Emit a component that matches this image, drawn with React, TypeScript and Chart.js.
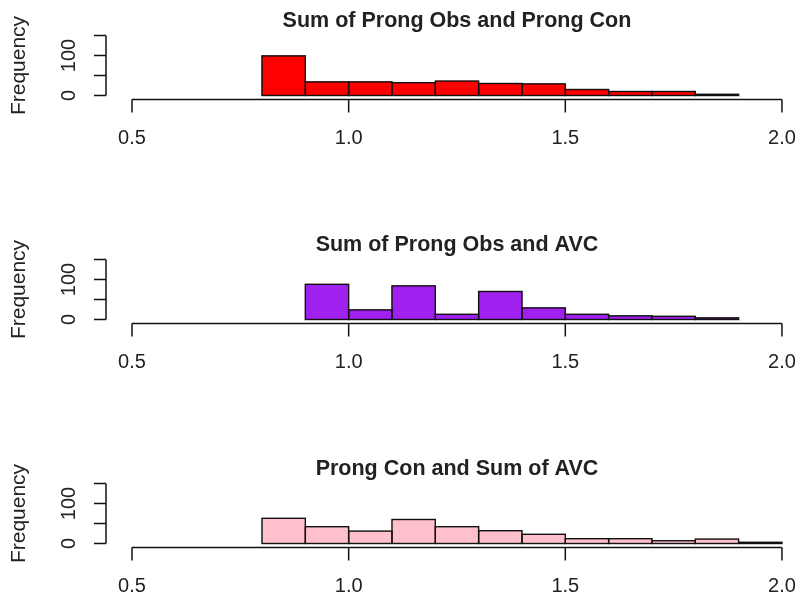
import React, { useEffect, useRef } from 'react';
import { Chart, registerables } from 'chart.js';

Chart.register(...registerables);

// Axis ticks
const xTicks = [0.5, 1.0, 1.5, 2.0];
const xTickLabels = ['0.5', '1.0', '1.5', '2.0'];
const yTicks = [0, 50, 100, 150];
const yTickLabels = ['0', '', '100', ''];
const yAxisTitle = 'Frequency';

// Panel titles
const titleObsCon = 'Sum of Prong Obs and Prong Con';
const titleObsAvc = 'Sum of Prong Obs and AVC';
const titleConAvc = 'Prong Con and Sum of AVC';

// Histogram bins (bin centres, width 0.1) and counts
const binsObsCon = [0.85, 0.95, 1.05, 1.15, 1.25, 1.35, 1.45, 1.55, 1.65, 1.75, 1.85];
const countsObsCon = [99, 34, 34, 32, 36, 30, 29, 15, 10, 10, 3];

const binsObsAvc = [0.95, 1.05, 1.15, 1.25, 1.35, 1.45, 1.55, 1.65, 1.75, 1.85];
const countsObsAvc = [88, 24, 84, 13, 70, 29, 13, 9, 8, 4];

const binsConAvc = [0.85, 0.95, 1.05, 1.15, 1.25, 1.35, 1.45, 1.55, 1.65, 1.75, 1.85, 1.95];
const countsConAvc = [63, 42, 31, 60, 42, 32, 23, 12, 12, 7, 11, 3];

const colorObsCon = '#FF0000';
const colorObsAvc = '#A020F0';
const colorConAvc = '#FFC0CB';

const FONT = '"Liberation Sans", Arial, sans-serif';
const TEXT = '#222222';

// R-style rectangle outlines (stroked centred on the bar edges, never clamped)
const barOutline = {
  id: 'barOutline',
  afterDatasetsDraw(chart: any) {
    const { ctx } = chart;
    ctx.save();
    ctx.strokeStyle = '#111';
    ctx.lineWidth = 1.4;
    chart.data.datasets.forEach((_: any, di: number) => {
      const meta = chart.getDatasetMeta(di);
      meta.data.forEach((el: any) => {
        const { x, y, base, width } = el.getProps(['x', 'y', 'base', 'width'], true);
        const left = x - width / 2;
        const top = Math.min(y, base);
        const h = Math.abs(base - y);
        ctx.strokeRect(left, top, width, h);
      });
    });
    ctx.restore();
  },
};

function makeAxesPlugin(title: string) {
  return {
    id: 'rAxes',
    afterDraw(chart: any) {
      const { ctx, chartArea } = chart;
      const xs = chart.scales.x;
      const ys = chart.scales.y;
      ctx.save();
      ctx.strokeStyle = '#111';
      ctx.lineWidth = 1.5;
      ctx.fillStyle = TEXT;

      // x axis
      const ay = chartArea.bottom;
      const xa = xs.getPixelForValue(xTicks[0]);
      const xb = xs.getPixelForValue(xTicks[xTicks.length - 1]);
      ctx.beginPath();
      ctx.moveTo(xa, ay);
      ctx.lineTo(xb, ay);
      xTicks.forEach((t) => {
        const px = xs.getPixelForValue(t);
        ctx.moveTo(px, ay);
        ctx.lineTo(px, ay + 13);
      });
      ctx.stroke();
      ctx.font = `20px ${FONT}`;
      ctx.textAlign = 'center';
      ctx.textBaseline = 'middle';
      xTicks.forEach((t, i) => {
        ctx.fillText(xTickLabels[i], xs.getPixelForValue(t), ay + 39);
      });

      // y axis
      const ax = chartArea.left;
      const ya = ys.getPixelForValue(yTicks[0]);
      const yb = ys.getPixelForValue(yTicks[yTicks.length - 1]);
      ctx.beginPath();
      ctx.moveTo(ax, ya);
      ctx.lineTo(ax, yb);
      yTicks.forEach((t) => {
        const py = ys.getPixelForValue(t);
        ctx.moveTo(ax, py);
        ctx.lineTo(ax - 12, py);
      });
      ctx.stroke();
      yTicks.forEach((t, i) => {
        if (!yTickLabels[i]) return;
        ctx.save();
        ctx.translate(ax - 36.5, ys.getPixelForValue(t));
        ctx.rotate(-Math.PI / 2);
        ctx.fillText(yTickLabels[i], 0, 0);
        ctx.restore();
      });

      // y axis title
      ctx.save();
      ctx.font = `21px ${FONT}`;
      ctx.translate(19.5, (chartArea.top + chartArea.bottom) / 2);
      ctx.rotate(-Math.PI / 2);
      ctx.fillText(yAxisTitle, 0, 0);
      ctx.restore();

      // main title, centred on the full R plot region
      ctx.font = `bold 21.5px ${FONT}`;
      ctx.fillText(title, xs.getPixelForValue(1.25), 21);
      ctx.restore();
    },
  };
}

function Panel(props: { title: string; bins: number[]; counts: number[]; color: string }) {
  const ref = useRef<HTMLCanvasElement>(null);
  useEffect(() => {
    const { title, bins, counts, color } = props;
    const chart = new Chart(ref.current as HTMLCanvasElement, {
      type: 'bar',
      data: {
        datasets: [
          {
            data: bins.map((b, i) => ({ x: b, y: counts[i] })),
            backgroundColor: color,
            borderWidth: 0,
            barPercentage: 1,
            categoryPercentage: 1,
          } as any,
        ],
      },
      options: {
        animation: false,
        responsive: false,
        devicePixelRatio: 1,
        events: [],
        layout: { padding: { left: 106, right: 0, top: 31.5, bottom: 124.5 } },
        scales: {
          x: { type: 'linear', offset: false, min: 0.44, max: 2.037, display: false },
          y: { type: 'linear', min: -10, max: 160, display: false },
        },
        plugins: {
          legend: { display: false },
          tooltip: { enabled: false },
        },
      } as any,
      plugins: [barOutline, makeAxesPlugin(title)],
    });
    return () => chart.destroy();
  }, []);
  return (
    <canvas
      ref={ref}
      width={798}
      height={224}
      style={{ display: 'block', width: 798, height: 224 }}
    />
  );
}

export default function App() {
  return (
    <div
      style={{
        position: 'fixed',
        left: 0,
        top: 0,
        width: 798,
        height: 600,
        overflow: 'hidden',
        background: '#ffffff',
      }}
    >
      <Panel title={titleObsCon} bins={binsObsCon} counts={countsObsCon} color={colorObsCon} />
      <Panel title={titleObsAvc} bins={binsObsAvc} counts={countsObsAvc} color={colorObsAvc} />
      <Panel title={titleConAvc} bins={binsConAvc} counts={countsConAvc} color={colorConAvc} />
    </div>
  );
}
